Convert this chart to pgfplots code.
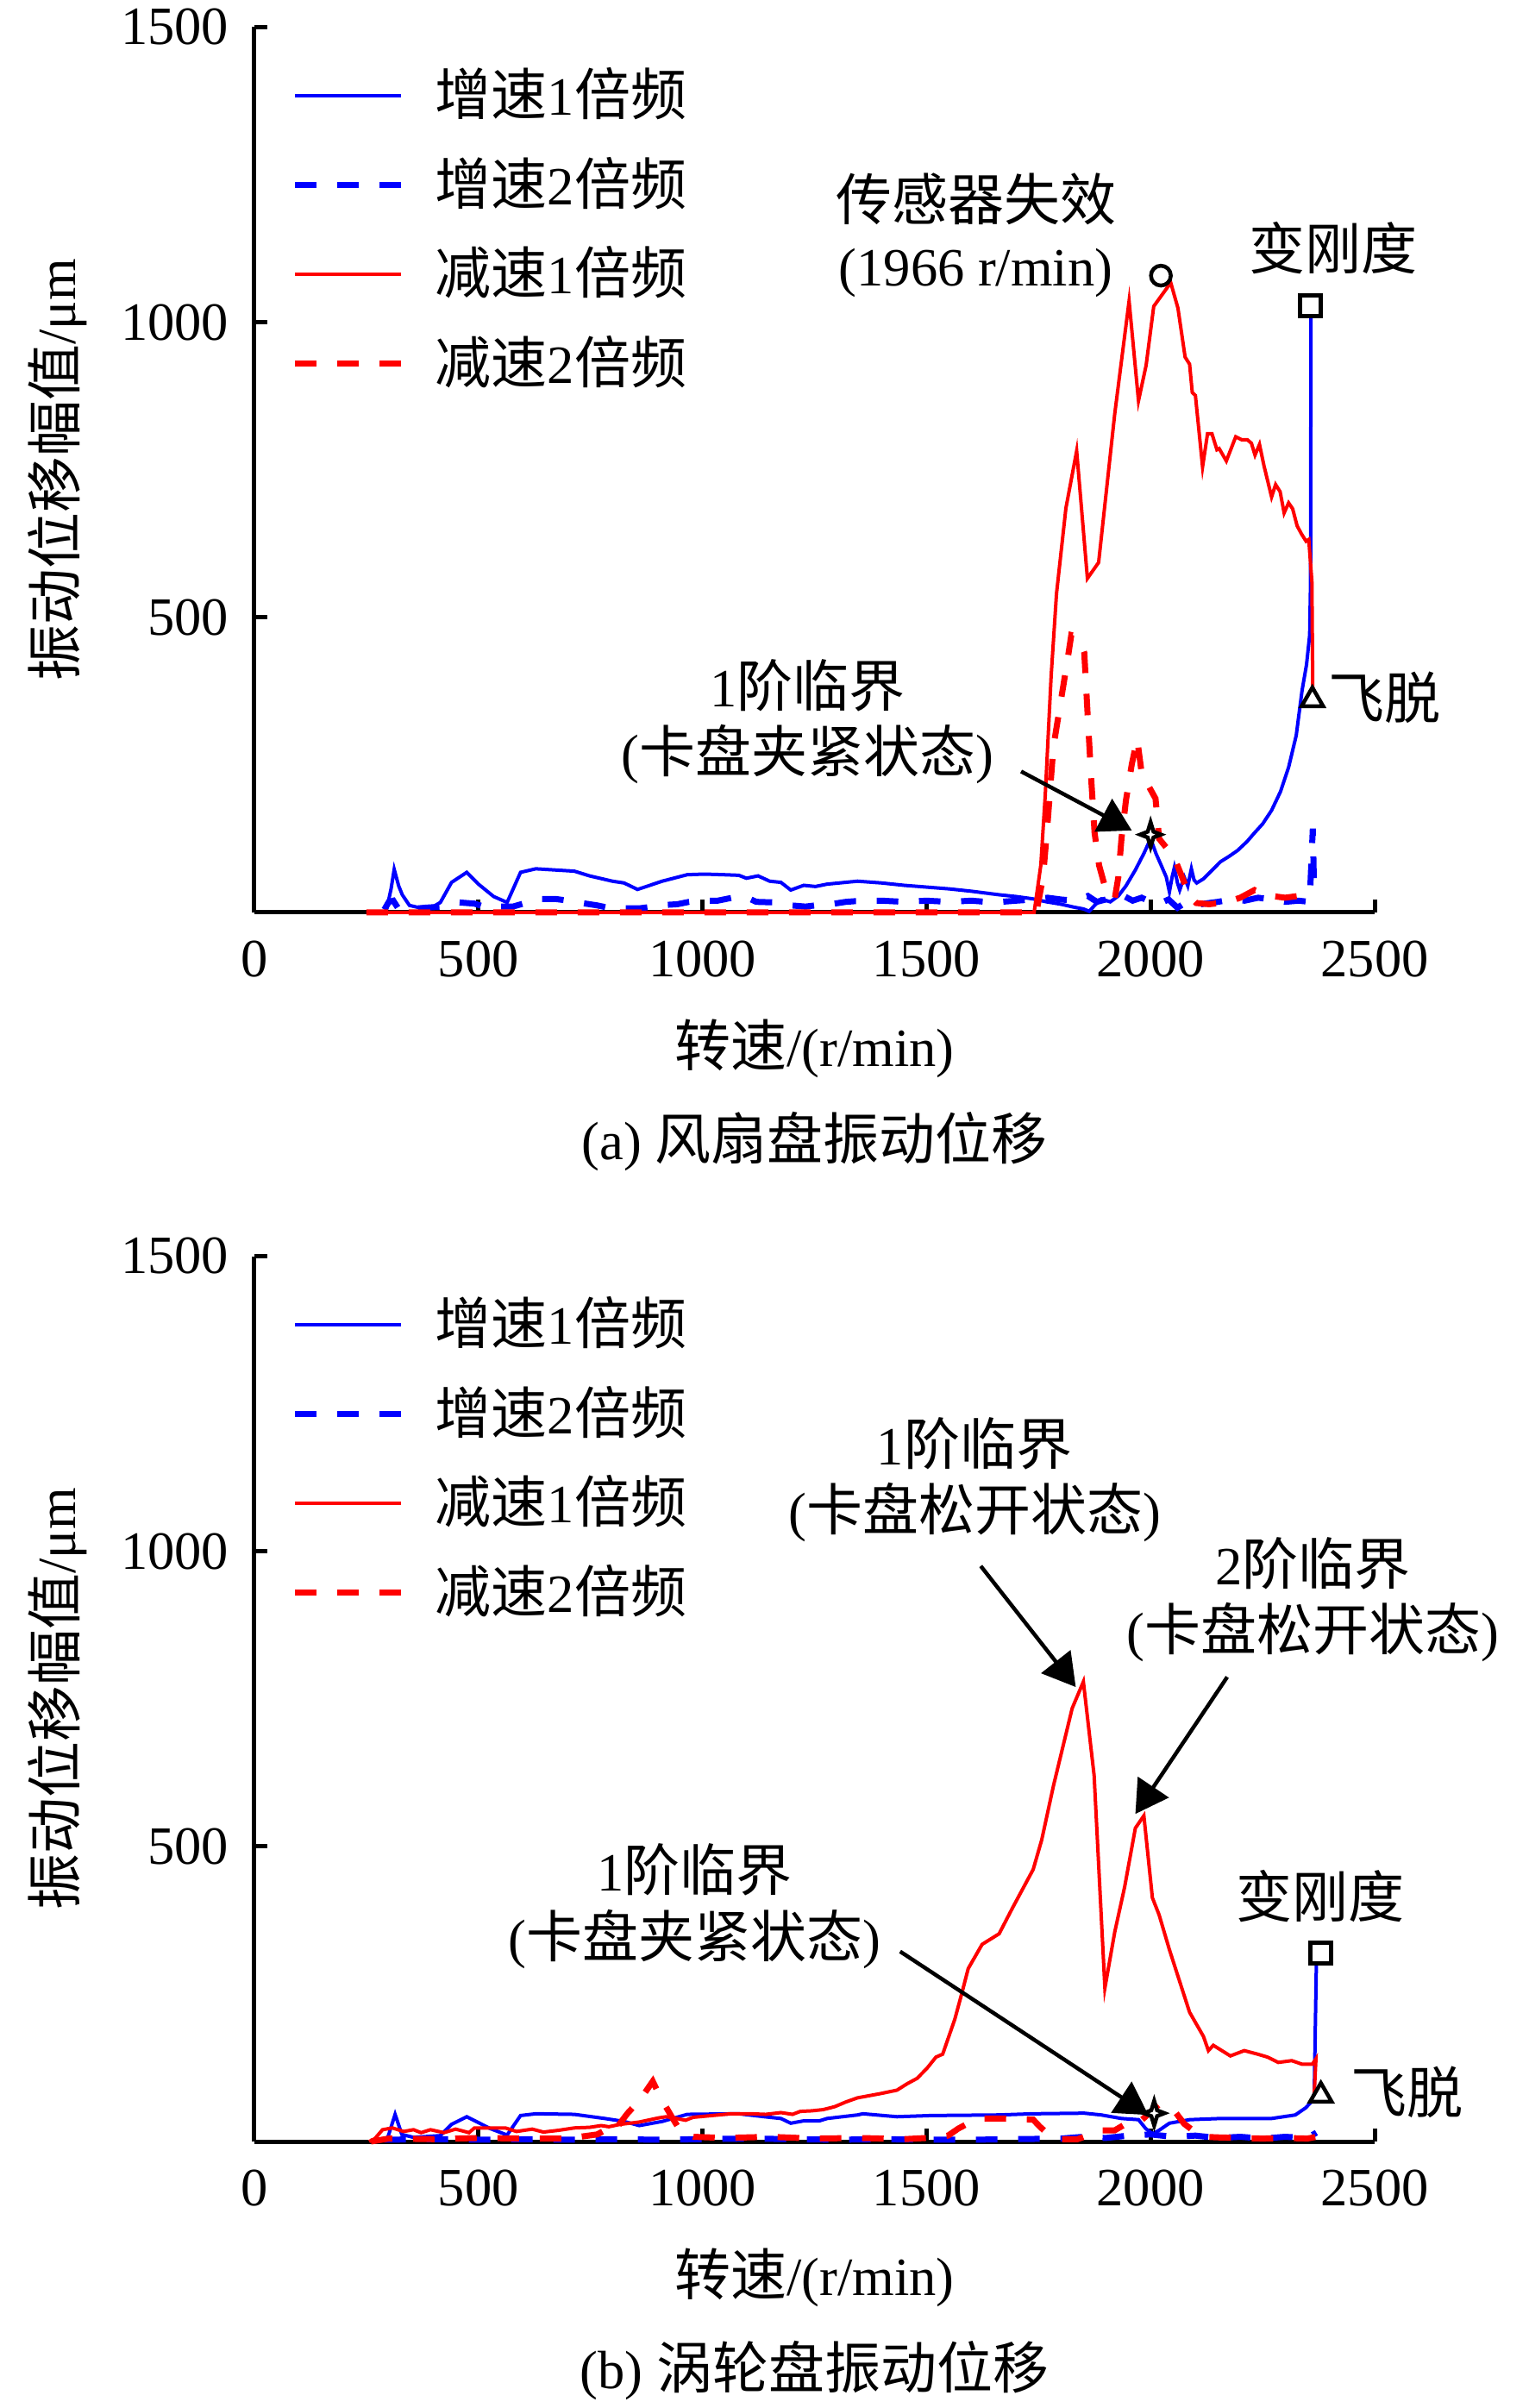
\documentclass[border=0pt]{standalone}
\usepackage{fontspec}
\setmainfont{Liberation Serif}
\newfontfamily\cjk{Noto Sans CJK SC}[Scale=1.04]
\usepackage{pgfplots}
\pgfplotsset{compat=1.18}
\usetikzlibrary{arrows.meta}
\newcommand{\zh}[1]{{\cjk #1}}
\pgfdeclareplotmark{dstar}{%
  \pgfpathmoveto{\pgfqpoint{0pt}{1.2\pgfplotmarksize}}%
  \pgfpathlineto{\pgfqpoint{0.28\pgfplotmarksize}{0.28\pgfplotmarksize}}%
  \pgfpathlineto{\pgfqpoint{\pgfplotmarksize}{0pt}}%
  \pgfpathlineto{\pgfqpoint{0.28\pgfplotmarksize}{-0.28\pgfplotmarksize}}%
  \pgfpathlineto{\pgfqpoint{0pt}{-1.2\pgfplotmarksize}}%
  \pgfpathlineto{\pgfqpoint{-0.28\pgfplotmarksize}{-0.28\pgfplotmarksize}}%
  \pgfpathlineto{\pgfqpoint{-\pgfplotmarksize}{0pt}}%
  \pgfpathlineto{\pgfqpoint{-0.28\pgfplotmarksize}{0.28\pgfplotmarksize}}%
  \pgfpathclose
  \pgfusepathqfillstroke}
\tikzset{arr/.style={line width=0.9pt, -{Triangle[length=7.5pt,width=8.5pt]}}}
\pgfplotsset{
  myaxis/.style={
    scale only axis, width=259.8pt, height=205.3pt,
    xmin=0, xmax=2500, ymin=0, ymax=1500,
    axis x line*=bottom, axis y line*=left,
    xtick={0,500,1000,1500,2000,2500}, ytick={500,1000,1500},
    tick align=inside, major tick length=3pt,
    axis line style={line width=1pt}, tick style={line width=1pt, black},
    /pgf/number format/assume math mode=true,
    /pgf/number format/1000 sep={},
    xticklabel style={yshift=-2.3pt},
    yticklabel style={xshift=-1.6pt},
    clip=false,
    xlabel={\zh{转速}/(r/min)},
    xlabel style={at={(axis description cs:0.5,-0.1535)}, anchor=center},
    ylabel={\zh{振动位移幅值}/μm},
    ylabel style={at={(axis description cs:-0.176,0.5)}, anchor=center},
    legend style={draw=none, fill=none, at={(axis description cs:0.033,0.955)}, anchor=north west,
      inner sep=0pt, row sep=7.8pt, nodes={inner sep=0pt, anchor=west},
      /tikz/every odd column/.append style={column sep=7.2pt}},
    legend cell align=left,
    legend image code/.code={\draw[##1] (0pt,0pt) -- (24.6pt,0pt);},
  },
  b1/.style={blue, line width=0.8pt},
  b2/.style={blue, line width=1.4pt, dash pattern=on 5pt off 4.8pt},
  r1/.style={red, line width=0.8pt},
  r2/.style={red, line width=1.4pt, dash pattern=on 5pt off 4.8pt},
  mk/.style={only marks, black, fill=white, line width=0.9pt, forget plot},
}
\begin{document}
\fontsize{12.5pt}{15pt}\selectfont
\begin{tikzpicture}
\useasboundingbox (-59.0pt,-346.8pt) rectangle (295.4pt,211.6pt);
% ---------------- (a) ----------------
\begin{axis}[myaxis, at={(0pt,0pt)}, anchor=south west]
\addplot[b1] coordinates {
(295,5)(305,40)(312,73)(322,45)(330,30)(346,12)(363,9)(397,9)(415,17)(440,51)(474,68)(500,48)(534,27)(564,17)(594,68)(628,74)(714,70)(748,62)(799,53)(825,50)(855,39)(910,53)(966,64)(1004,65)(1047,64)(1081,63)(1098,58)(1124,62)(1150,53)(1175,51)(1197,38)(1226,46)(1252,44)(1278,48)(1346,53)(1400,50)(1450,46)(1500,43)(1550,40)(1600,36)(1662,30)(1700,27)(1738,23)(1768,18)(1800,14)(1829,9)(1850,6)(1863,2)(1875,12)(1890,23)(1910,18)(1928,28)(1945,45)(1966,72)(1985,100)(2000,125)(2012,100)(2023,81)(2035,60)(2042,35)(2048,60)(2053,76)(2060,50)(2065,38)(2075,60)(2083,45)(2091,74)(2097,55)(2103,50)(2118,57)(2135,70)(2156,86)(2175,95)(2194,105)(2215,120)(2232,135)(2250,150)(2270,173)(2290,205)(2308,246)(2325,300)(2338,376)(2348,420)(2355,470)(2357,560)(2358,1040)
};
\addlegendentry{\zh{增速}1\zh{倍频}}
\addplot[b2] coordinates {
(290,5)(300,18)(310,20)(320,8)(340,5)(380,8)(420,10)(457,17)(491,15)(520,8)(543,10)(577,10)(600,15)(628,23)(671,23)(700,20)(722,17)(765,12)(790,8)(812,7)(859,7)(880,9)(901,12)(944,14)(970,18)(991,20)(1034,20)(1060,24)(1081,27)(1100,25)(1120,18)(1162,17)(1197,12)(1230,10)(1252,12)(1286,14)(1320,18)(1338,19)(1400,20)(1450,18)(1500,20)(1550,18)(1600,20)(1650,17)(1700,20)(1740,22)(1770,25)(1800,22)(1830,20)(1860,28)(1880,18)(1900,22)(1920,30)(1940,28)(1960,20)(1980,25)(2000,18)(2020,15)(2040,22)(2060,8)(2080,18)(2100,12)(2120,15)(2150,18)(2180,22)(2210,20)(2240,25)(2270,22)(2300,18)(2330,20)(2355,18)(2362,142)(2365,30)
};
\addlegendentry{\zh{增速}2\zh{倍频}}
\addplot[r1] coordinates {
(250,0)(1740,0)(1755,80)(1765,200)(1778,400)(1790,540)(1811,685)(1835,782)(1859,566)(1884,593)(1920,845)(1952,1036)(1973,867)(1990,927)(2007,1027)(2045,1067)(2061,1024)(2077,941)(2087,929)(2093,881)(2100,876)(2116,755)(2127,811)(2137,811)(2148,784)(2153,786)(2169,765)(2190,806)(2203,801)(2216,801)(2225,795)(2233,775)(2243,793)(2253,757)(2270,704)(2279,725)(2289,713)(2298,677)(2308,694)(2317,684)(2327,655)(2337,641)(2347,629)(2353,632)(2360,560)(2362,370)
};
\addlegendentry{\zh{减速}1\zh{倍频}}
\addplot[r2] coordinates {
(250,0)(1745,0)(1760,60)(1770,150)(1783,280)(1800,360)(1814,425)(1823,470)(1833,468)(1845,455)(1852,440)(1860,328)(1868,220)(1875,135)(1885,80)(1897,47)(1910,30)(1920,23)(1928,60)(1935,125)(1945,190)(1958,251)(1970,294)(1981,231)(1995,215)(2011,193)(2019,125)(2035,110)(2049,100)(2065,70)(2079,43)(2090,25)(2102,16)(2130,14)(2156,16)(2180,20)(2200,25)(2232,38)(2250,32)(2270,28)(2300,25)(2330,28)(2350,25)(2368,23)
};
\addlegendentry{\zh{减速}2\zh{倍频}}
\addplot[mk, mark=*, mark size=2.3pt] coordinates {(2023,1079)};
\addplot[mk, mark=square*, mark size=2.4pt] coordinates {(2357,1028)};
\addplot[mk, mark=triangle*, mark size=2.9pt] coordinates {(2361,360)};
\addplot[mk, mark=dstar, mark size=2.4pt] coordinates {(2000,132)};
\node at (axis cs:1610,1209) {\zh{传感器失效}};
\node at (axis cs:1610,1084) {(1966 r/min)};
\node at (axis cs:2407,1126) {\zh{变刚度}};
\node[anchor=west, inner sep=0pt] at (axis cs:2395,364) {\zh{飞脱}};
\node at (axis cs:1234,385) {1\zh{阶临界}};
\node at (axis cs:1234,268) {(\zh{卡盘夹紧状态})};
\draw[arr] (axis cs:1711,239) -- (axis cs:1958,139);
\node at (axis description cs:0.5,-0.2585) {(a) \zh{风扇盘振动位移}};
\end{axis}
% ---------------- (b) ----------------
\begin{axis}[myaxis, at={(0pt,-285.0pt)}, anchor=south west]
\addplot[b1] coordinates {
(295,5)(299,10)(314,46)(329,12)(355,7)(415,10)(440,29)(474,42)(526,22)(564,11)(594,44)(628,47)(714,46)(782,39)(825,34)(859,27)(910,34)(966,46)(1081,47)(1150,41)(1175,39)(1197,31)(1226,35)(1261,35)(1278,39)(1346,45)(1358,47)(1434,42)(1510,44)(1662,45)(1738,47)(1852,48)(1890,45)(1935,39)(1973,37)(1989,22)(2004,13)(2019,19)(2042,31)(2087,37)(2156,39)(2270,39)(2323,45)(2346,57)(2365,72)(2370,305)
};
\addlegendentry{\zh{增速}1\zh{倍频}}
\addplot[b2] coordinates {
(290,3)(400,4)(500,3)(600,4)(700,3)(800,4)(900,3)(1000,4)(1100,5)(1200,4)(1300,3)(1400,4)(1500,3)(1600,3)(1700,4)(1800,5)(1850,8)(1900,6)(1950,10)(2000,12)(2050,8)(2100,10)(2150,6)(2200,8)(2250,5)(2300,8)(2350,6)(2370,15)
};
\addlegendentry{\zh{增速}2\zh{倍频}}
\addplot[r1] coordinates {
(256,0)(269,5)(286,20)(308,23)(333,17)(355,20)(372,15)(393,20)(423,15)(449,21)(479,15)(491,23)(560,23)(585,17)(620,21)(645,16)(679,19)(714,23)(748,24)(774,27)(791,25)(816,29)(859,33)(902,40)(919,42)(936,40)(962,36)(979,41)(1021,44)(1064,47)(1107,47)(1141,46)(1175,49)(1201,46)(1218,51)(1244,52)(1269,54)(1295,59)(1320,67)(1346,74)(1396,81)(1434,87)(1457,98)(1479,107)(1502,125)(1521,143)(1536,148)(1563,207)(1578,249)(1593,293)(1624,334)(1662,352)(1692,396)(1738,461)(1757,511)(1783,602)(1825,734)(1850,779)(1874,620)(1898,260)(1920,355)(1942,431)(1966,531)(1985,552)(2004,413)(2019,384)(2042,325)(2087,219)(2118,178)(2129,154)(2140,163)(2178,145)(2209,154)(2239,148)(2261,143)(2285,134)(2315,137)(2338,131)(2361,131)(2369,140)(2365,78)
};
\addlegendentry{\zh{减速}1\zh{倍频}}
\addplot[r2] coordinates {
(260,0)(300,5)(400,4)(500,6)(600,5)(697,5)(765,12)(782,19)(800,15)(833,48)(859,69)(889,102)(906,75)(932,41)(953,15)(980,8)(1050,6)(1150,8)(1250,5)(1350,6)(1450,4)(1500,6)(1548,10)(1571,22)(1586,28)(1628,39)(1669,39)(1700,38)(1738,37)(1753,25)(1775,10)(1799,4)(1837,4)(1860,10)(1890,19)(1920,19)(1945,30)(1966,37)(1981,37)(2000,50)(2019,63)(2042,57)(2057,48)(2075,30)(2094,19)(2120,8)(2150,7)(2200,6)(2250,5)(2300,6)(2350,5)(2370,8)
};
\addlegendentry{\zh{减速}2\zh{倍频}}
\addplot[mk, mark=square*, mark size=2.4pt] coordinates {(2380,319)};
\addplot[mk, mark=triangle*, mark size=2.9pt] coordinates {(2380,78)};
\addplot[mk, mark=dstar, mark size=2.4pt] coordinates {(2008,48)};
\node at (axis cs:1607,1183) {1\zh{阶临界}};
\node at (axis cs:1607,1066) {(\zh{卡盘松开状态})};
\draw[arr] (axis cs:1621,975) -- (axis cs:1833,770);
\node at (axis cs:2362,980) {2\zh{阶临界}};
\node at (axis cs:2362,863) {(\zh{卡盘松开状态})};
\draw[arr] (axis cs:2171,787) -- (axis cs:1966,555);
\node at (axis cs:983,460) {1\zh{阶临界}};
\node at (axis cs:983,343) {(\zh{卡盘夹紧状态})};
\draw[arr] (axis cs:1441,322) -- (axis cs:1995,45);
\node at (axis cs:2379,416) {\zh{变刚度}};
\node[anchor=west, inner sep=0pt] at (axis cs:2446,83) {\zh{飞脱}};
\node at (axis description cs:0.5,-0.2585) {(b) \zh{涡轮盘振动位移}};
\end{axis}
\end{tikzpicture}
\end{document}
